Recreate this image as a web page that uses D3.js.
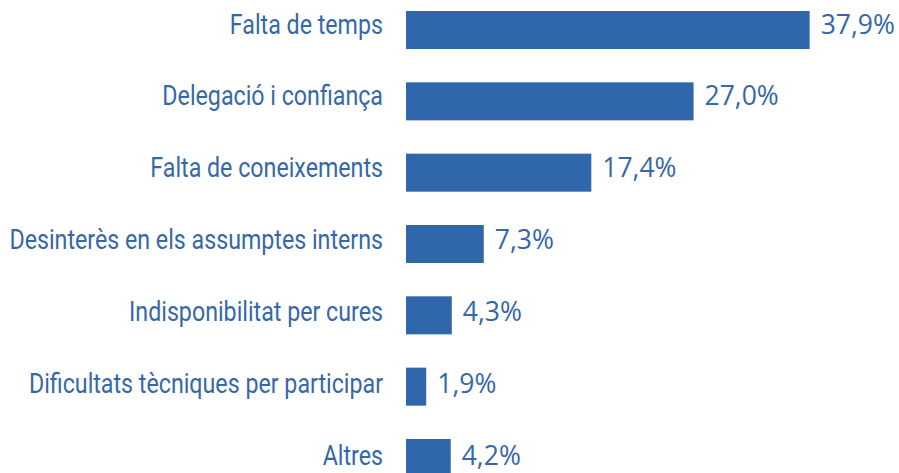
<!DOCTYPE html>
<html>
<head>
<meta charset="utf-8">
<script src="https://cdn.jsdelivr.net/npm/d3@7"></script>
<style>
  html, body { margin: 0; padding: 0; background: #fff; }
  .cat { font-family: Roboto, sans-serif; font-size: 27px; fill: #3567a9; }
  .val { font-family: "Open Sans", sans-serif; font-size: 26.5px; fill: #3567a9; }
</style>
</head>
<body>
<div id="container"></div>
<script>
var width = 899,
    height = 473;

var categories = [
  "Falta de temps",
  "Delegació i confiança",
  "Falta de coneixements",
  "Desinterès en els assumptes interns",
  "Indisponibilitat per cures",
  "Dificultats tècniques per participar",
  "Altres"
];
var values = [37.9, 27.0, 17.4, 7.3, 4.3, 1.9, 4.2];
var value_labels = ["37,9%", "27,0%", "17,4%", "7,3%", "4,3%", "1,9%", "4,2%"];

var rows = categories.map(function(c, i){ return {cat: c, value: values[i], label: value_labels[i]}; });

var svg = d3.select("#container")
            .append("svg")
            .attr("width", width)
            .attr("height", height);

var x = d3.scaleLinear()
  .domain([0, 40])
  .range([406, 832]);

var y = d3.scaleBand()
  .domain(categories)
  .range([11, 477])
  .paddingInner(0.467)
  .paddingOuter(0);

// text baselines sit on a slightly wider grid than the bars
var yText = d3.scalePoint()
  .domain(categories)
  .range([33.5, 465]);

// bars
svg.append("g").selectAll("rect")
  .data(rows)
  .enter().append("rect")
  .attr("x", x(0))
  .attr("y", function(d){ return y(d.cat); })
  .attr("width", function(d){ return x(d.value) - x(0); })
  .attr("height", y.bandwidth())
  .style("fill", "#3066aa");

// category labels (condensed look)
svg.append("g").selectAll("text")
  .data(rows)
  .enter().append("text")
  .attr("class", "cat")
  .attr("transform", function(d){ return "translate(383," + yText(d.cat) + ") scale(0.86,1)"; })
  .attr("text-anchor", "end")
  .text(function(d){ return d.cat; });

// value labels
svg.append("g").selectAll("text")
  .data(rows)
  .enter().append("text")
  .attr("class", "val")
  .attr("x", function(d){ return x(d.value) + 11; })
  .attr("y", function(d){ return yText(d.cat); })
  .text(function(d){ return d.label; });
</script>
</body>
</html>
